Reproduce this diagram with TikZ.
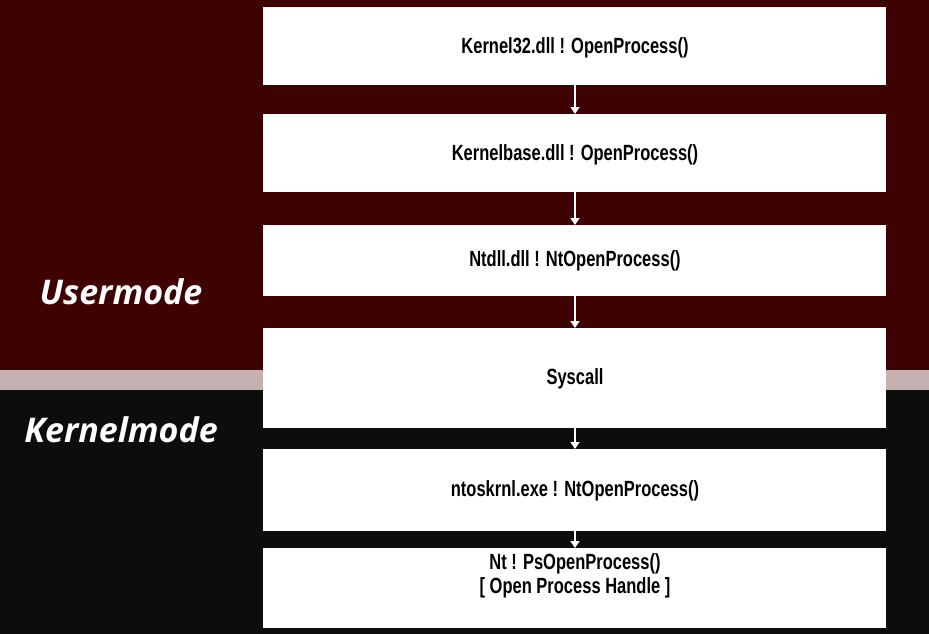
\documentclass[tikz,border=0pt]{standalone}
\usepackage{fontspec}
\setmainfont{Liberation Sans}
\newfontfamily\boxfont[FakeStretch=0.75]{Liberation Sans}
\newfontfamily\modefont{Open Sans}
\usetikzlibrary{arrows.meta}
\definecolor{userred}{HTML}{3F0203}
\definecolor{bandgray}{HTML}{C4B0AE}
\definecolor{kernblack}{HTML}{0D0D0D}
\tikzset{
  callbox/.style={fill=white, draw=none},
  calltext/.style={font=\boxfont\bfseries\fontsize{22}{24}\selectfont, text=black, align=center},
  modelabel/.style={font=\modefont\bfseries\itshape\fontsize{34}{38}\selectfont, text=white},
  flow/.style={draw=white, line width=1.4pt, -{Triangle[width=9pt,length=7pt]}}
}
\begin{document}
\begin{tikzpicture}[x=1pt,y=-1pt]
\useasboundingbox (0,0) rectangle (929,634);
\fill[userred] (0,0) rectangle (929,370);
\fill[bandgray] (0,370) rectangle (929,390);
\fill[kernblack] (0,390) rectangle (929,634);

\fill[callbox] (263,7) rectangle (886,85);
\fill[callbox] (263,114) rectangle (886,192);
\fill[callbox] (263,225) rectangle (886,296);
\fill[callbox] (263,328) rectangle (886,428);
\fill[callbox] (263,449) rectangle (886,531);
\fill[callbox] (263,548) rectangle (886,628);

\coordinate (b1t) at (575,7);   \coordinate (b1b) at (575,85);
\coordinate (b2t) at (575,114); \coordinate (b2b) at (575,192);
\coordinate (b3t) at (575,225); \coordinate (b3b) at (575,296);
\coordinate (b4t) at (575,328); \coordinate (b4b) at (575,428);
\coordinate (b5t) at (575,449); \coordinate (b5b) at (575,531);
\coordinate (b6t) at (575,548);

\node[calltext] (t1) at (575,48) {Kernel32.dll ! OpenProcess()};
\node[calltext] (t2) at (575,155) {Kernelbase.dll ! OpenProcess()};
\node[calltext] (t3) at (575,261) {Ntdll.dll ! NtOpenProcess()};
\node[calltext] (t4) at (575,379) {Syscall};
\node[calltext] (t5) at (575,491) {ntoskrnl.exe ! NtOpenProcess()};
\node[calltext] (t6) at (575,576) {Nt ! PsOpenProcess()\\{[} Open Process Handle ]};

\draw[flow] (b1b) -- (b2t);
\draw[flow] (b2b) -- (b3t);
\draw[flow] (b3b) -- (b4t);
\draw[flow] (b4b) -- (b5t);
\draw[flow] (b5b) -- (b6t);

\node[modelabel] (um) at (121,292) {Usermode};
\node[modelabel] (km) at (121,430) {Kernelmode};
\end{tikzpicture}
\end{document}
